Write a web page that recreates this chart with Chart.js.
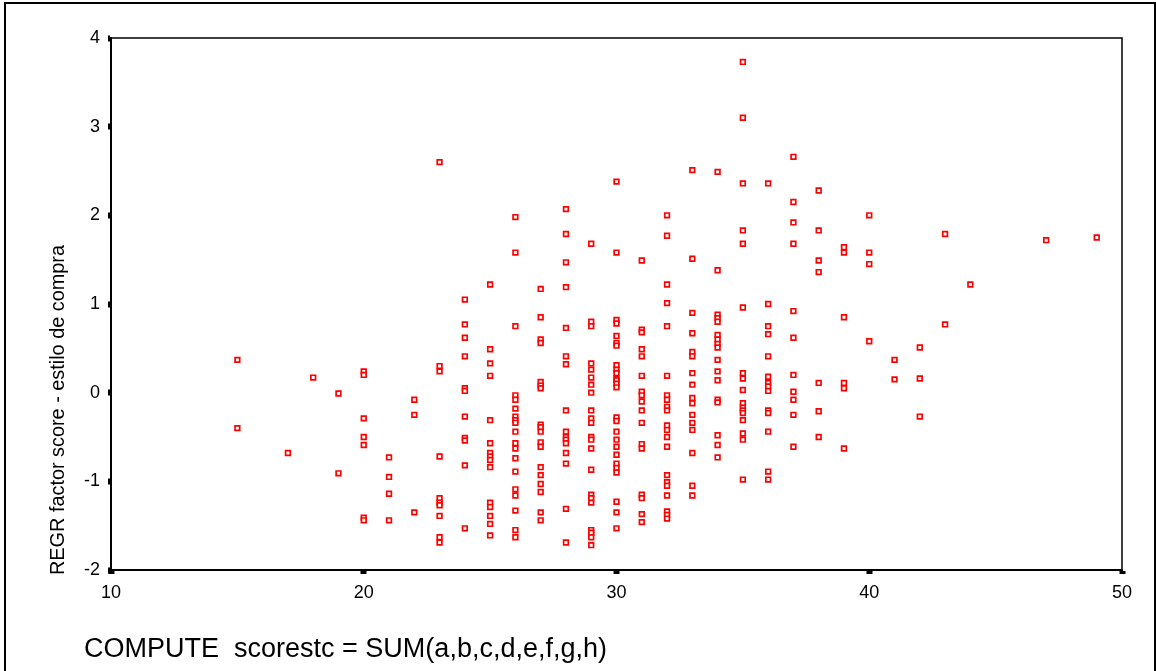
<!DOCTYPE html>
<html>
<head>
<meta charset="utf-8">
<style>
  html, body { margin: 0; padding: 0; background: #fff; }
  #wrap { position: relative; width: 1156px; height: 671px; }
</style>
<script src="https://cdn.jsdelivr.net/npm/chart.js@4.4.1/dist/chart.umd.min.js"></script>
</head>
<body>
<div id="wrap"><canvas id="scatter"></canvas></div>
<script>
// =========================================================
// DATA
// One small list of factor scores per value of scorestc,
// read off the picture column by column.
// =========================================================
const scores = [15, 17, 18, 19, 20, 21, 22, 23, 24, 25, 26, 27, 28, 29, 30, 31, 32,
                33, 34, 35, 36, 37, 38, 39, 40, 41, 42, 43, 44, 47, 49];

const factorAt15 = [0.37, -0.40];
const factorAt17 = [-0.68];
const factorAt18 = [0.17];
const factorAt19 = [-0.01, -0.91];
const factorAt20 = [0.24, 0.20, -0.29, -0.50, -0.59, -1.41, -1.44];
const factorAt21 = [-0.73, -0.95, -1.14, -1.44];
const factorAt22 = [-0.08, -0.25, -1.35];
const factorAt23 = [2.60, 0.30, 0.24, -0.72, -1.19, -1.24, -1.27, -1.39, -1.63, -1.69];
const factorAt24 = [1.05, 0.77, 0.62, 0.41, 0.05, 0.02, -0.27, -0.51, -0.54, -0.82, -1.53];
const factorAt25 = [1.22, 0.49, 0.33, 0.19, -0.31, -0.57, -0.68, -0.72, -0.76, -0.84,
                    -1.24, -1.29, -1.39, -1.48, -1.61];
const factorAt26 = [1.98, 1.58, 0.75, -0.03, -0.08, -0.18, -0.27, -0.31, -0.34, -0.44,
                    -0.57, -0.63, -0.74, -0.89, -1.09, -1.16, -1.33, -1.55, -1.63];
const factorAt27 = [1.17, 0.85, 0.60, 0.56, 0.12, 0.08, 0.05, -0.36, -0.39, -0.44,
                    -0.56, -0.61, -0.84, -0.93, -1.03, -1.12, -1.35, -1.44];
const factorAt28 = [2.07, 1.79, 1.47, 1.19, 0.73, 0.41, 0.32, -0.20, -0.44, -0.50,
                    -0.53, -0.57, -0.68, -0.80, -1.31, -1.69];
const factorAt29 = [1.68, 0.80, 0.75, 0.33, 0.26, 0.17, 0.09, 0.00, -0.20, -0.29, -0.34,
                    -0.50, -0.53, -0.63, -0.87, -1.15, -1.19, -1.24, -1.55, -1.58, -1.63, -1.72];
const factorAt30 = [2.38, 1.58, 0.82, 0.78, 0.64, 0.56, 0.53, 0.31, 0.26, 0.22, 0.16, 0.14,
                    0.10, 0.06, -0.28, -0.32, -0.44, -0.53, -0.61, -0.70, -0.80, -0.85,
                    -0.90, -1.23, -1.35, -1.53];
const factorAt31 = [1.49, 0.71, 0.68, 0.49, 0.41, 0.19, 0.01, -0.03, -0.10, -0.20, -0.34,
                    -0.58, -0.63, -1.15, -1.19, -1.37, -1.46];
const factorAt32 = [2.00, 1.77, 1.22, 1.01, 0.75, 0.19, -0.03, -0.08, -0.16, -0.20, -0.37,
                    -0.42, -0.50, -0.61, -0.93, -1.01, -1.05, -1.16, -1.34, -1.38, -1.42];
const factorAt33 = [2.51, 1.51, 0.90, 0.67, 0.46, 0.41, 0.22, 0.09, -0.06, -0.12, -0.25,
                    -0.34, -0.42, -0.68, -1.05, -1.16];
const factorAt34 = [2.49, 1.38, 0.88, 0.84, 0.80, 0.65, 0.60, 0.55, 0.51, 0.37, 0.24, 0.14,
                    -0.08, -0.11, -0.48, -0.59, -0.73];
const factorAt35 = [3.73, 3.10, 2.36, 1.83, 1.68, 0.96, 0.22, 0.16, 0.03, -0.12, -0.17,
                    -0.20, -0.23, -0.31, -0.46, -0.53, -0.98];
const factorAt36 = [2.36, 1.00, 0.75, 0.66, 0.41, 0.18, 0.11, 0.07, 0.02, -0.20, -0.23,
                    -0.44, -0.89, -0.98];
const factorAt37 = [2.66, 2.15, 1.92, 1.68, 0.92, 0.62, 0.20, 0.01, -0.08, -0.25, -0.61];
const factorAt38 = [2.28, 1.83, 1.49, 1.36, 0.11, -0.21, -0.50];
const factorAt39 = [1.64, 1.58, 0.85, 0.11, 0.05, -0.63];
const factorAt40 = [2.00, 1.58, 1.45, 0.58];
const factorAt41 = [0.37, 0.15];
const factorAt42 = [0.51, 0.16, -0.27];
const factorAt43 = [1.79, 0.77];
const factorAt44 = [1.22];
const factorAt47 = [1.72];
const factorAt49 = [1.75];

const factorLists = [factorAt15, factorAt17, factorAt18, factorAt19, factorAt20, factorAt21,
  factorAt22, factorAt23, factorAt24, factorAt25, factorAt26, factorAt27, factorAt28,
  factorAt29, factorAt30, factorAt31, factorAt32, factorAt33, factorAt34, factorAt35,
  factorAt36, factorAt37, factorAt38, factorAt39, factorAt40, factorAt41, factorAt42,
  factorAt43, factorAt44, factorAt47, factorAt49];

// tick labels / axis text
const xTicks = [10, 20, 30, 40, 50];
const yTicks = [-2, -1, 0, 1, 2, 3, 4];
const xAxisText = "COMPUTE  scorestc = SUM(a,b,c,d,e,f,g,h)";
const yAxisText = "REGR factor score - estilo de compra";

// Flatten the columns into {x, y} points for Chart.js
const points = [];
scores.forEach((score, i) => {
  factorLists[i].forEach((value) => points.push({ x: score, y: value }));
});

const FONT_FAMILY = "'Liberation Sans', Arial, sans-serif";

// Draw a line of text squeezed to a given width (the picture uses
// a narrow font, so a bigger size is compressed sideways)
function drawNarrowText(ctx, text, size, targetWidth) {
  ctx.font = size + "px " + FONT_FAMILY;
  const w = ctx.measureText(text).width;
  ctx.scale(targetWidth / w, 1);
  ctx.fillText(text, 0, 0);
}

// =========================================================
// PLUGIN: outer box, thin top/right frame, and the two
// axis captions
// =========================================================
const framePlugin = {
  id: "frame",
  afterDraw(chart) {
    const ctx = chart.ctx;
    const area = chart.chartArea;
    ctx.save();
    ctx.strokeStyle = "#000";

    // thin top and right edge of the plot box
    ctx.lineWidth = 1.5;
    ctx.beginPath();
    ctx.moveTo(area.left, area.top);
    ctx.lineTo(area.right, area.top);
    ctx.lineTo(area.right, area.bottom);
    ctx.stroke();

    // outer border round the whole picture
    ctx.lineWidth = 2;
    ctx.beginPath();
    ctx.moveTo(5, 680);
    ctx.lineTo(5, 3);
    ctx.lineTo(1155, 3);
    ctx.lineTo(1155, 680);
    ctx.stroke();
    ctx.restore();

    ctx.fillStyle = "#000";
    ctx.textBaseline = "alphabetic";

    // caption under the x axis
    ctx.save();
    ctx.translate(84, 657);
    drawNarrowText(ctx, xAxisText, 27, 523);
    ctx.restore();

    // rotated caption beside the y axis, starting just below the axis end
    ctx.save();
    ctx.translate(64, area.bottom + 5);
    ctx.rotate(-Math.PI / 2);
    drawNarrowText(ctx, yAxisText, 20, 330);
    ctx.restore();
  },
};

const tickFont = { family: FONT_FAMILY, size: 18 };

new Chart(document.getElementById("scatter"), {
  type: "scatter",
  data: {
    datasets: [
      {
        data: points,
        pointStyle: "rect",
        pointRadius: 3.3,
        pointHoverRadius: 3.3,
        pointBorderWidth: 1.7,
        pointBorderColor: "#ff0000",
        pointBackgroundColor: "#ffffff",
      },
    ],
  },
  options: {
    responsive: true,
    maintainAspectRatio: false,
    animation: false,
    events: [],
    layout: { padding: { left: 0, right: 34, top: 38, bottom: 0 } },
    plugins: {
      legend: { display: false },
      tooltip: { enabled: false },
    },
    scales: {
      x: {
        type: "linear",
        min: xTicks[0],
        max: xTicks[xTicks.length - 1],
        afterBuildTicks: (scale) => {
          scale.ticks = xTicks.map((v) => ({ value: v }));
        },
        afterFit: (scale) => {
          scale.height = 101;
        },
        border: { display: true, color: "#000", width: 2 },
        grid: {
          drawOnChartArea: false,
          drawTicks: true,
          tickLength: 4,
          tickWidth: 6,
          tickColor: "#000",
        },
        ticks: { color: "#000", font: tickFont, padding: 8, maxRotation: 0 },
      },
      y: {
        type: "linear",
        min: yTicks[0],
        max: yTicks[yTicks.length - 1],
        afterBuildTicks: (scale) => {
          scale.ticks = yTicks.map((v) => ({ value: v }));
        },
        afterFit: (scale) => {
          scale.width = 111;
        },
        border: { display: true, color: "#000", width: 2 },
        grid: {
          drawOnChartArea: false,
          drawTicks: true,
          tickLength: 3,
          tickWidth: 6,
          tickColor: "#000",
        },
        ticks: { color: "#000", font: tickFont, padding: 8 },
      },
    },
  },
  plugins: [framePlugin],
});
</script>
</body>
</html>
